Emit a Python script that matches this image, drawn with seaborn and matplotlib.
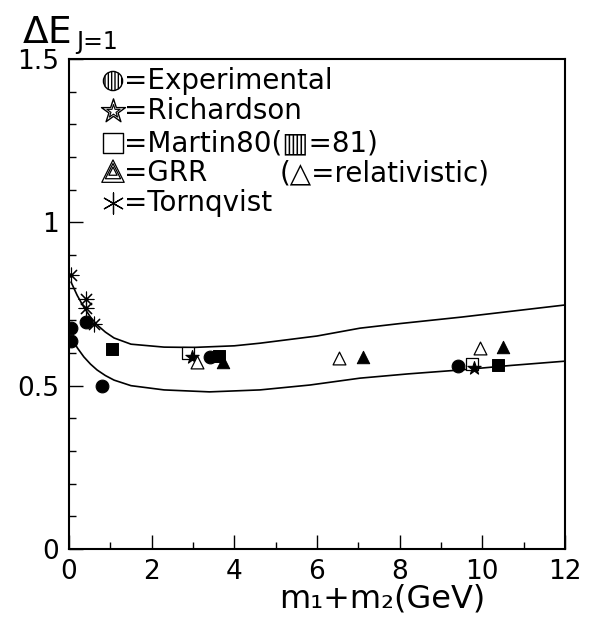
import numpy as np
import pandas as pd
import matplotlib
matplotlib.use("Agg")
import matplotlib.pyplot as plt
import seaborn as sns
from matplotlib.ticker import MultipleLocator, FixedLocator

# ---- data ----
exp_x = [0.05, 0.05, 0.41, 0.80, 3.41, 9.41]
exp_y = [0.676, 0.637, 0.695, 0.500, 0.588, 0.560]
rich_x = [2.98, 9.80]
rich_y = [0.588, 0.554]
m80_x = [2.88, 9.75]
m80_y = [0.600, 0.566]
m81_x = [1.04, 3.63, 10.38]
m81_y = [0.612, 0.590, 0.563]
rel_x = [3.10, 6.53, 9.94]
rel_y = [0.572, 0.585, 0.615]
grr_x = [3.73, 7.11, 10.50]
grr_y = [0.572, 0.588, 0.618]
torn_x = [0.05, 0.41, 0.41, 0.60]
torn_y = [0.840, 0.765, 0.737, 0.690]

upper_x = [0.05, 0.20, 0.36, 0.52, 0.68, 0.88, 1.09, 1.5, 2.3, 3.0, 4.0, 4.62, 6.0, 7.04, 8.0, 9.5, 12.0]
upper_y = [0.817, 0.776, 0.740, 0.710, 0.686, 0.664, 0.646, 0.627, 0.618, 0.617, 0.622, 0.630, 0.652, 0.676, 0.690, 0.710, 0.747]
lower_x = [0.05, 0.20, 0.36, 0.52, 0.68, 0.88, 1.09, 1.5, 2.3, 3.4, 4.62, 5.83, 7.04, 8.2, 9.46, 10.7, 12.0]
lower_y = [0.649, 0.616, 0.588, 0.566, 0.548, 0.531, 0.517, 0.500, 0.487, 0.481, 0.487, 0.502, 0.523, 0.536, 0.548, 0.562, 0.575]

xticks = [0, 2, 4, 6, 8, 10, 12]
yticks = [0, 0.5, 1, 1.5]
ytick_labels = ["0", "0.5", "1", "1.5"]

sns.set_theme(style="white")
plt.rcParams["font.family"] = ["DejaVu Sans"]
plt.rcParams["text.color"] = "black"
plt.rcParams["xtick.color"] = "black"
plt.rcParams["ytick.color"] = "black"

fig = plt.figure(figsize=(5.92, 6.25), dpi=100)
ax = fig.add_axes([69/592, 1-549/625, (565-69)/592, (549-59)/625])

sns.lineplot(x=upper_x, y=upper_y, ax=ax, color="black", lw=1.2, sort=False, estimator=None)
sns.lineplot(x=lower_x, y=lower_y, ax=ax, color="black", lw=1.2, sort=False, estimator=None)

kw = dict(ax=ax, color="black", edgecolor="black", legend=False, zorder=3)
sns.scatterplot(x=exp_x, y=exp_y, marker="o", s=85, **kw)
sns.scatterplot(x=m81_x, y=m81_y, marker="s", s=75, **kw)
sns.scatterplot(x=grr_x, y=grr_y, marker="^", s=80, **kw)
sns.scatterplot(x=rich_x, y=rich_y, marker="*", s=100, **kw)
sns.scatterplot(x=m80_x, y=m80_y, marker="s", s=85, ax=ax, facecolor="white",
                edgecolor="black", linewidth=0.9, legend=False, zorder=2)
sns.scatterplot(x=rel_x, y=rel_y, marker="^", s=85, ax=ax, facecolor="white",
                edgecolor="black", linewidth=0.9, legend=False, zorder=3)
sns.scatterplot(x=torn_x, y=torn_y, marker=(8, 2, 0), s=115, ax=ax, color="black",
                linewidth=0.8, legend=False, zorder=3)

ax.set_xlim(0, 12)
ax.set_ylim(0, 1.5)
ax.xaxis.set_major_locator(FixedLocator(xticks))
ax.xaxis.set_minor_locator(MultipleLocator(1))
ax.yaxis.set_major_locator(FixedLocator(yticks))
ax.set_yticklabels(ytick_labels)
ax.yaxis.set_minor_locator(MultipleLocator(0.1))
ax.tick_params(which="both", direction="in", top=False, right=False,
               bottom=True, left=True, colors="black", labelsize=19, width=1.0)
ax.tick_params(which="major", length=10, pad=7)
ax.tick_params(which="minor", length=5)
for s in ax.spines.values():
    s.set_color("black")
    s.set_linewidth(1.5)
ax.set_xlabel("")
ax.set_ylabel("")

fs = 20
rows_y = [81, 111, 143, 173, 203]
def ty(py):
    return 1 - py/625

sym = dict(transform=fig.transFigure, zorder=5, clip_on=False)
tx = 124/592
fig.text(tx, ty(rows_y[0]), "=Experimental", fontsize=fs, va="center")
fig.text(tx, ty(rows_y[1]), "=Richardson", fontsize=fs, va="center")
fig.text(tx, ty(rows_y[2]), "=Martin80(\u25A5=81)", fontsize=fs, va="center")
fig.text(tx, ty(rows_y[3]), "=GRR", fontsize=fs, va="center")
fig.text(280/592, ty(rows_y[3]), "(\u25B3=relativistic)", fontsize=fs, va="center")
fig.text(tx, ty(rows_y[4]), "=Tornqvist", fontsize=fs, va="center")

mx = 113/592
ax.scatter([mx], [ty(rows_y[0])], marker="o", s=190, facecolor="white",
           edgecolor="black", hatch="|||||", linewidth=1, **sym)
ax.scatter([mx], [ty(rows_y[1])], marker="*", s=330, facecolor="white",
           edgecolor="black", linewidth=1, **sym)
ax.scatter([mx], [ty(rows_y[1])], marker="*", s=100, facecolor="white",
           edgecolor="black", linewidth=0.8, **sym)
ax.scatter([mx], [ty(rows_y[2])], marker="s", s=200, facecolor="white",
           edgecolor="black", linewidth=1, **sym)
for sz in (260, 120, 35):
    ax.scatter([mx], [ty(rows_y[3]) + 0.003], marker="^", s=sz, facecolor="none",
               edgecolor="black", linewidth=0.9, **sym)
ax.scatter([mx], [ty(rows_y[4])], marker=(6, 2, 0), s=230, color="black",
           linewidth=0.9, **sym)

fig.text(22/592, ty(43), r"$\Delta$E", fontsize=27, va="baseline")
fig.text(76/592, ty(49), "J=1", fontsize=17, va="baseline")
fig.text(382/592, ty(607), "m\u2081+m\u2082(GeV)", fontsize=23, va="baseline", ha="center")

fig.savefig("out.png", dpi=100)
